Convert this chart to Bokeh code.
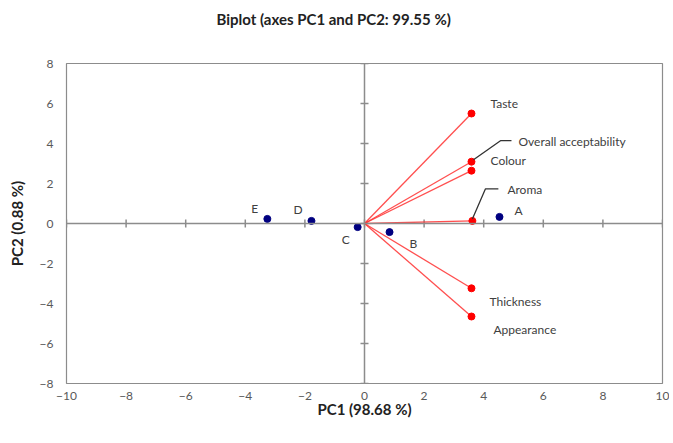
from bokeh.plotting import figure
from bokeh.models import Range1d, FixedTicker, Span, ColumnDataSource, Title
from bokeh.core.properties import value
from bokeh.embed import file_html
from bokeh.resources import INLINE

# --- data ---
title_text = "Biplot (axes PC1 and PC2: 99.55 %)"
obs_names = ["A", "B", "C", "D", "E"]
obs_pc1 = [4.53, 0.84, -0.23, -1.78, -3.26]
obs_pc2 = [0.33, -0.43, -0.18, 0.13, 0.23]

var_names = ["Taste", "Overall acceptability", "Colour", "Aroma", "Thickness", "Appearance"]
var_pc1 = [3.59, 3.59, 3.59, 3.62, 3.59, 3.59]
var_pc2 = [5.50, 3.09, 2.64, 0.13, -3.24, -4.65]

x_ticks = [-10, -8, -6, -4, -2, 0, 2, 4, 6, 8, 10]
y_ticks = [-8, -6, -4, -2, 0, 2, 4, 6, 8]

# --- style (label offsets in screen px, +y down) ---
obs_dx = [15, 20, -16, -18, -16]
obs_dy = [-6, 11, 12, -11, -10]
var_dx = [19, 47, 19, 35, 18, 22]
var_dy = [-10, -20, -10, -31, 13, 13]

W, H = 669, 435
ML, MR, MT, MB = 66, 7, 63, 52
xr = (-10, 10)
yr = (-8, 8)
fw = W - ML - MR
fh = H - MT - MB
ux = (xr[1] - xr[0]) / fw  # data per px
uy = (yr[1] - yr[0]) / fh

FONT = "Lato"
GRID = "#8c8c8c"
TXT = "#404040"

p = figure(width=W, height=H, output_backend="svg", toolbar_location=None,
           x_range=Range1d(*xr), y_range=Range1d(*yr),
           min_border_left=ML, min_border_right=MR, min_border_top=MT,
           min_border_bottom=MB)
p.title = None
# spacer panel (nearest the frame), then the real title above it
p.add_layout(Title(text=" ", text_font=FONT, text_font_size="15px", standoff=16), "above")
p.add_layout(Title(text=title_text, align="left", offset=150,
                   text_font=FONT, text_font_size="15px", text_font_style="bold",
                   text_color="#222222", standoff=0), "above")

p.grid.visible = False
p.outline_line_color = GRID
p.outline_line_width = 1.2

for ax, ticks in ((p.xaxis, x_ticks), (p.yaxis, y_ticks)):
    ax.ticker = FixedTicker(ticks=ticks)
    ax.axis_line_color = None
    ax.major_tick_line_color = None
    ax.minor_tick_line_color = None
    ax.major_tick_out = 0
    ax.major_tick_in = 0
    ax.minor_tick_out = 0
    ax.major_label_text_font = FONT
    ax.major_label_text_font_size = "12px"
    ax.major_label_text_color = "#595959"
    ax.axis_label_text_font = FONT
    ax.axis_label_text_font_size = "15px"
    ax.axis_label_text_font_style = "bold"
    ax.axis_label_text_color = "#222222"
p.xaxis.major_label_standoff = 8
p.yaxis.major_label_standoff = 13
p.xaxis.axis_label = "PC1 (98.68 %)"
p.yaxis.axis_label = "PC2 (0.88 %)"
p.xaxis.axis_label_standoff = -3
p.yaxis.axis_label_standoff = 11

# center axes
p.add_layout(Span(location=0, dimension="width", line_color=GRID, line_width=1.5))
p.add_layout(Span(location=0, dimension="height", line_color=GRID, line_width=1.5))
tl = 4
p.segment(x0=x_ticks, x1=x_ticks, y0=[-tl * uy] * len(x_ticks), y1=[tl * uy] * len(x_ticks),
          line_color=GRID, line_width=1.5)
p.segment(x0=[-tl * ux] * len(y_ticks), x1=[tl * ux] * len(y_ticks), y0=y_ticks, y1=y_ticks,
          line_color=GRID, line_width=1.5)

# vectors
n = len(var_names)
p.segment(x0=[0] * n, y0=[0] * n, x1=var_pc1, y1=var_pc2, line_color="#ff3030",
          line_width=1.3, line_alpha=0.85)
p.scatter(var_pc1, var_pc2, size=7, color="#ff0000")

# leader lines for two labels (screen offsets px)
leaders = {1: [(2, -2), (29, -21), (40, -21)], 3: [(0, -2), (13, -32), (26, -32)]}
for i, pts in leaders.items():
    p.line([var_pc1[i] + a * ux for a, b in pts], [var_pc2[i] - b * uy for a, b in pts],
           line_color="#333333", line_width=1.3)

# observations
p.scatter(obs_pc1, obs_pc2, size=7, color="#000080")

src_o = ColumnDataSource(dict(x=obs_pc1, y=obs_pc2, t=obs_names, dx=obs_dx, dy=obs_dy))
p.text(x="x", y="y", text="t", x_offset="dx", y_offset="dy", source=src_o,
       text_font=value(FONT), text_font_size="12px", text_color=TXT,
       text_baseline="middle", text_align="left")
src_v = ColumnDataSource(dict(x=var_pc1, y=var_pc2, t=var_names, dx=var_dx, dy=var_dy))
p.text(x="x", y="y", text="t", x_offset="dx", y_offset="dy", source=src_v,
       text_font=value(FONT), text_font_size="12px", text_color=TXT,
       text_baseline="middle", text_align="left")

open("out.html", "w").write(file_html(p, INLINE))
